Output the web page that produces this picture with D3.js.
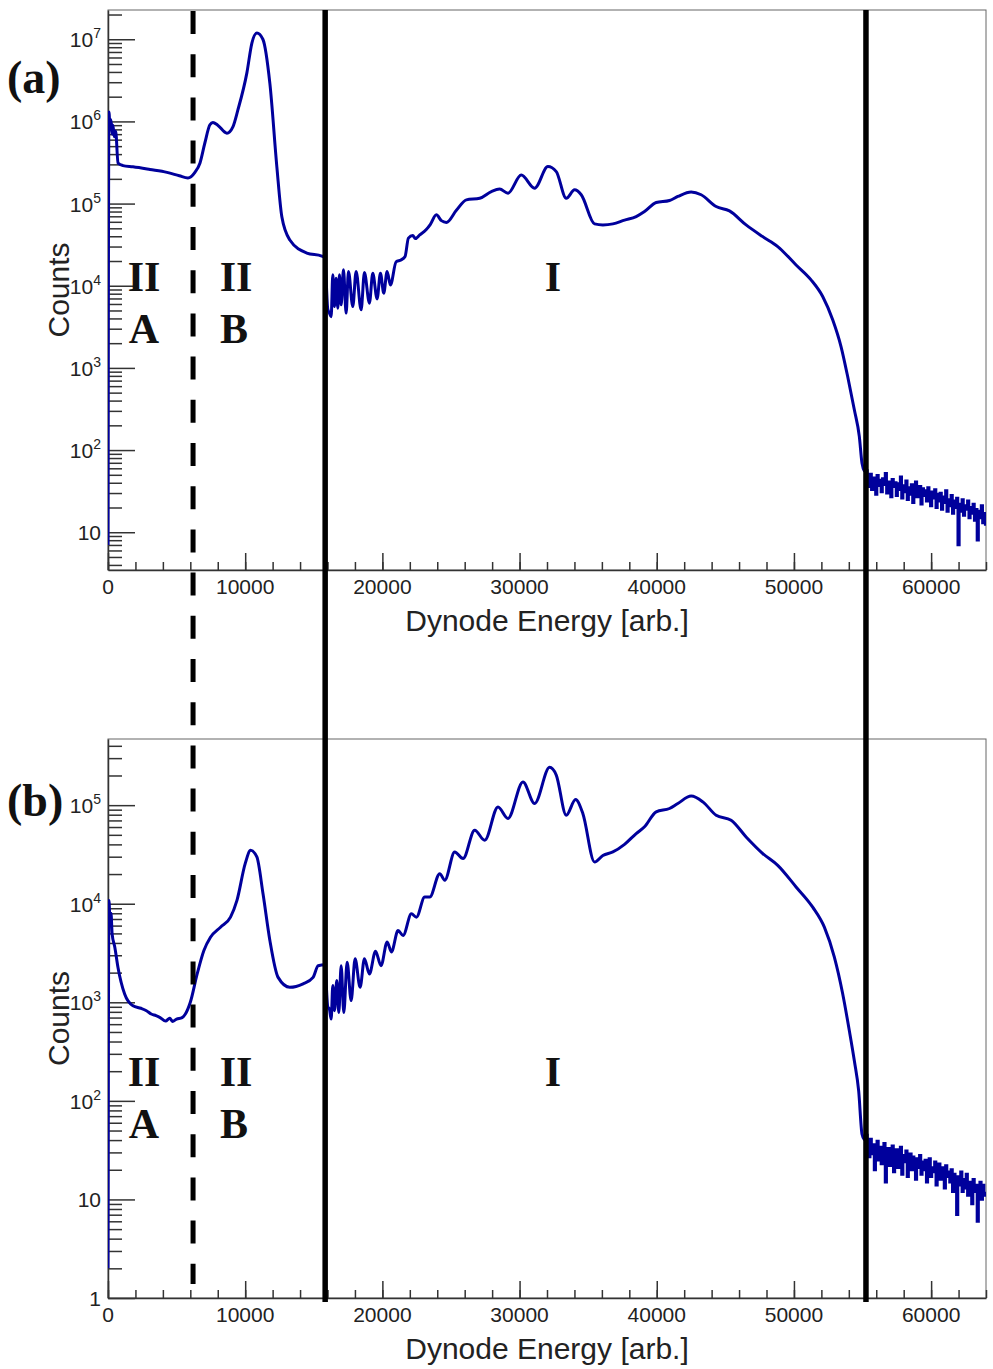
<!DOCTYPE html>
<html>
<head>
<meta charset="utf-8">
<script src="https://cdn.jsdelivr.net/npm/d3@7/dist/d3.min.js"></script>
<style>
  body { margin: 0; background: #fff; }
  svg { display: block; }
</style>
</head>
<body>
<div id="chart"></div>
<script>
// ---- data (energy in arb. units, counts) ----

// panel (a): smooth part of the spectrum
const energyA = [0, 70, 150, 220, 300, 364, 450, 560, 730, 1092, 1820, 3059, 4297, 5200, 5826,
  6336, 6700, 7064, 7429, 7647, 8000, 8667, 9104, 9468, 10123, 10488, 10852, 11289, 11799,
  12308, 12672, 13255, 14493, 15586, 15804,
  16020, 16143, 16266, 16387, 16508, 16630, 16751, 16872, 16994, 17164, 17358, 17528, 17843,
  18085, 18449, 18692, 19056, 19299, 19615, 19858, 20101, 20343, 20586, 20999, 21363, 21654,
  21897, 22213, 22400, 22723, 23184, 23500, 23936, 24300, 24667, 25395, 26123, 27094, 27944,
  28549, 29154, 30125, 31097, 32068, 32675, 33403, 34011, 34496, 35467, 36074, 36802, 37652,
  38501, 39109, 39959, 40930, 41537, 42508, 43236, 44328, 45299, 46513, 47727, 48819, 50155,
  51247, 52096, 52825, 53432, 53917, 54403, 54767, 54962, 55150];
const countsA = [7, 1300000, 820000, 1050000, 700000, 900000, 650000, 760000, 310000, 290000,
  280000, 260000, 240000, 218000, 205000,
  240000, 310000, 550000, 910000, 970000, 900000, 720000, 860000, 1380000, 3900000, 9000000,
  11900000, 10000000, 2900000,
  280000, 69000, 36000, 25000, 23000, 22000,
  5200, 4650, 4200, 13600, 5580, 12300, 5330, 13600, 5850, 15600, 4650, 14900, 5580,
  14900, 5090, 14450, 6140, 14200, 6920, 14200, 8130, 14900, 10200, 19500, 20600, 22700,
  38000, 40800, 37500, 41600, 48000, 56000, 73000, 62000, 59000, 83000, 111000, 116000, 140000,
  150000, 134000, 223000, 154000, 282000, 245000, 116000, 147000, 128000, 56600, 55000, 56600, 63000,
  69500, 80000, 103000, 109000, 122000, 138000, 128000, 92000, 81500, 55000, 39600, 30000, 17900,
  11800, 7400, 3850, 1820, 785, 309, 146, 69, 55];

// panel (a): noisy tail above the upper cut (bins of tailBin from tailStart)
const tailStart = 55250;
const tailBin = 100;
const tailA = [56, 44, 36, 51, 33, 46, 39, 29, 49, 37, 43,
  31, 45, 38, 52, 30, 41, 35, 27, 44, 36, 40,
  28, 39, 33, 47, 26, 37, 31, 42, 25, 35, 29,
  38, 23, 33, 41, 27, 31, 36, 22, 34, 28, 32,
  24, 35, 27, 21, 31, 26, 33, 20, 29, 24, 30,
  19, 27, 23, 32, 18, 25, 21, 28, 17, 24, 20,
  26, 7, 22, 18, 25, 16, 21, 19, 24, 15, 20,
  17, 22, 14, 19, 8, 18, 15, 21, 13, 17, 12];

// panel (b): smooth part of the spectrum
const energyB = [0, 70, 150, 220, 300, 500, 728, 1213, 1820, 2400, 2800, 3150, 3500, 3800, 4200,
  4500, 4700, 5000, 5400, 5640, 6000, 6500, 6990, 7470, 8200, 8930, 9400, 10000, 10400, 10850,
  11300, 11800, 12400, 13250, 14220, 14950, 15320, 15804,
  16020, 16143, 16266, 16387, 16508, 16678, 16824, 16994, 17188, 17431, 17722, 18013, 18376,
  18692, 19056, 19500, 19900, 20350, 20658, 21144, 21508, 22116, 22480, 23087, 23451, 24181,
  24545, 25273, 25880, 26730, 27458, 28428, 29154, 30246, 31097, 32189, 32675, 33403, 34083,
  34617, 35467, 36074, 36802, 37652, 38501, 39109, 39959, 40930, 41537, 42508, 43357, 44328,
  45420, 46513, 47727, 48819, 50155, 51368, 52217, 52946, 53553, 54039, 54403, 54719, 54962, 55150];
const countsB = [2, 10800, 6500, 8000, 4950, 3600, 2260, 1216, 923, 870, 822, 760, 731, 700, 646,
  690, 640, 676, 700, 760, 1000, 1940, 3350, 4570, 5780, 7310, 10800, 25500, 34800, 29800,
  12600, 4240, 1790, 1420, 1540, 1790, 2350, 2400,
  900, 850, 675, 1480, 822, 1660, 790, 2350, 790, 2550, 1040, 2760, 1420,
  2760, 1940, 3300, 2350, 4100, 3240, 5350, 4760, 7900, 7310, 11700, 11700, 20200,
  17300, 33500, 28700, 55700, 44000, 96000, 73300, 172000, 104000, 242000, 202000, 79000, 114000,
  82000, 26500, 30900, 33500, 40000, 51500, 60300, 85500, 92500, 104000, 123500, 108000, 79000,
  70300, 47600, 32300, 24500, 14800, 9230, 5780, 2870, 1220, 514, 255, 126, 46, 40];

// panel (b): noisy tail above the upper cut
const tailB = [45, 33, 27, 41, 29, 36, 20, 32, 39, 25, 34,
  23, 30, 37, 15, 28, 33, 22, 27, 35, 19, 29,
  32, 21, 26, 34, 18, 28, 24, 31, 17, 25, 29,
  20, 27, 23, 16, 26, 21, 28, 18, 24, 20, 25,
  15, 22, 26, 17, 21, 19, 24, 14, 20, 23, 16,
  21, 18, 13, 22, 17, 19, 15, 20, 12, 18, 16,
  7, 17, 14, 19, 12, 16, 13, 18, 11, 15, 14,
  9, 16, 12, 14, 6, 13, 15, 10, 14, 11, 12];

// axis ticks
const xMajor = [0, 10000, 20000, 30000, 40000, 50000, 60000];
const xTickLabels = ['0', '10000', '20000', '30000', '40000', '50000', '60000'];
const yExpA = [1, 2, 3, 4, 5, 6, 7];
const yExpB = [0, 1, 2, 3, 4, 5];

// region boundaries (energy)
const cutAB = 6200;
const cutLow = 15830;
const cutHigh = 55250;

// ---- drawing ----
const width = 993;
const height = 1369;
const left = 108;
const right = 986;
const lineColor = '#00009c';
const axisFont = '"Liberation Sans", Arial, Helvetica, sans-serif';
const serifFont = '"Liberation Serif", "Times New Roman", serif';

const svg = d3.select('#chart')
  .append('svg')
  .attr('width', width)
  .attr('height', height);

const x = d3.scaleLinear().domain([0, 64000]).range([left, right]);

function drawPanel(p) {
  const y = d3.scaleLog().domain(p.yDomain).range([p.bottom, p.top]);
  const g = svg.append('g');

  // clip for the curve
  g.append('clipPath')
    .attr('id', 'clip-' + p.id)
    .append('rect')
    .attr('x', left)
    .attr('y', p.top)
    .attr('width', right - left)
    .attr('height', p.bottom - p.top);

  // frame
  g.append('rect')
    .attr('x', left)
    .attr('y', p.top)
    .attr('width', right - left)
    .attr('height', p.bottom - p.top)
    .attr('fill', 'none')
    .attr('stroke', '#666')
    .attr('stroke-width', 1);

  // x axis: major and minor ticks pointing up
  const xMinor = d3.range(0, 64001, 2000);
  g.append('g')
    .attr('transform', `translate(0,${p.bottom})`)
    .call(d3.axisBottom(x).tickValues(xMinor).tickSize(-8).tickSizeOuter(0).tickFormat(''))
    .call(a => a.selectAll('line,path').attr('stroke', '#333').attr('stroke-width', 1.5));
  g.append('g')
    .attr('transform', `translate(0,${p.bottom})`)
    .call(d3.axisBottom(x).tickValues(xMajor).tickSize(-17).tickSizeOuter(0).tickFormat(''))
    .call(a => a.selectAll('line').attr('stroke', '#333').attr('stroke-width', 1.5))
    .call(a => a.select('path').remove());

  g.selectAll('.xlab')
    .data(xMajor)
    .enter()
    .append('text')
    .attr('x', d => x(d))
    .attr('y', p.bottom + 24)
    .attr('text-anchor', 'middle')
    .attr('font-family', axisFont)
    .attr('font-size', '21px')
    .attr('fill', '#222')
    .text((d, i) => xTickLabels[i]);

  g.append('text')
    .attr('x', (left + right) / 2)
    .attr('y', p.bottom + 61)
    .attr('text-anchor', 'middle')
    .attr('font-family', axisFont)
    .attr('font-size', '30px')
    .attr('fill', '#222')
    .text('Dynode Energy [arb.]');

  // y axis: log ticks pointing right
  const yMinor = [];
  const lo = Math.floor(Math.log10(p.yDomain[0]));
  const hi = Math.ceil(Math.log10(p.yDomain[1]));
  for (let e = lo; e <= hi; e++) {
    for (let k = 2; k <= 9; k++) {
      const v = k * Math.pow(10, e);
      if (v >= p.yDomain[0] && v <= p.yDomain[1]) yMinor.push(v);
    }
  }
  g.append('g')
    .attr('transform', `translate(${left},0)`)
    .call(d3.axisLeft(y).tickValues(yMinor).tickSize(-14).tickSizeOuter(0).tickFormat(''))
    .call(a => a.selectAll('line,path').attr('stroke', '#333').attr('stroke-width', 1.5));
  g.append('g')
    .attr('transform', `translate(${left},0)`)
    .call(d3.axisLeft(y).tickValues(p.yExp.map(e => Math.pow(10, e))).tickSize(-27).tickSizeOuter(0).tickFormat(''))
    .call(a => a.selectAll('line').attr('stroke', '#333').attr('stroke-width', 1.5))
    .call(a => a.select('path').remove());

  p.yExp.forEach(e => {
    const t = g.append('text')
      .attr('x', 101)
      .attr('y', y(Math.pow(10, e)) + 8)
      .attr('text-anchor', 'end')
      .attr('font-family', axisFont)
      .attr('font-size', '21px')
      .attr('fill', '#222');
    if (e === 0) {
      t.attr('y', y(1) + 8).text('1');
    } else if (e === 1) {
      t.text('10');
    } else {
      t.append('tspan').text('10');
      t.append('tspan')
        .attr('dy', -9)
        .attr('font-size', '14px')
        .text(e);
    }
  });

  g.append('text')
    .attr('transform', `translate(69,${(p.top + p.bottom) / 2}) rotate(-90)`)
    .attr('text-anchor', 'middle')
    .attr('font-family', axisFont)
    .attr('font-size', '30px')
    .attr('fill', '#222')
    .text('Counts');

  // spectrum
  const pts = p.energy.map((e, i) => [e, p.counts[i]]);
  const line = d3.line()
    .x(d => x(d[0]))
    .y(d => y(d[1]))
    .curve(d3.curveMonotoneX);
  g.append('path')
    .datum(pts)
    .attr('clip-path', `url(#clip-${p.id})`)
    .attr('d', line)
    .attr('fill', 'none')
    .attr('stroke', lineColor)
    .attr('stroke-width', 3)
    .attr('stroke-linejoin', 'round');

  const tail = p.tail.map((c, i) => [tailStart + i * tailBin, c]);
  const stepLine = d3.line()
    .x(d => x(d[0]))
    .y(d => y(d[1]))
    .curve(d3.curveStepAfter);
  g.append('path')
    .datum(tail)
    .attr('clip-path', `url(#clip-${p.id})`)
    .attr('d', stepLine)
    .attr('fill', 'none')
    .attr('stroke', lineColor)
    .attr('stroke-width', 2.8);

  // panel tag and region labels
  g.append('text')
    .attr('x', 7)
    .attr('y', p.tagY)
    .attr('font-family', serifFont)
    .attr('font-weight', 'bold')
    .attr('font-size', '46px')
    .attr('fill', '#111')
    .text(p.tag);

  const regions = [
    { t: 'II', x: 144, dy: 0 }, { t: 'A', x: 144, dy: 52 },
    { t: 'II', x: 236, dy: 0 }, { t: 'B', x: 234, dy: 52 },
    { t: 'I', x: 553, dy: 0 }
  ];
  g.selectAll('.region')
    .data(regions)
    .enter()
    .append('text')
    .attr('x', d => d.x)
    .attr('y', d => p.regionY + d.dy)
    .attr('text-anchor', 'middle')
    .attr('font-family', serifFont)
    .attr('font-weight', 'bold')
    .attr('font-size', '42px')
    .attr('fill', '#111')
    .text(d => d.t);
}

drawPanel({
  id: 'a', top: 10, bottom: 570, yDomain: [3.47, 2.27e7], yExp: yExpA,
  energy: energyA, counts: countsA, tail: tailA,
  tag: '(a)', tagY: 93, regionY: 291
});

drawPanel({
  id: 'b', top: 739, bottom: 1298, yDomain: [1, 4.69e5], yExp: yExpB,
  energy: energyB, counts: countsB, tail: tailB,
  tag: '(b)', tagY: 816, regionY: 1086
});

// region boundaries drawn across both panels
svg.append('line')
  .attr('x1', x(cutAB)).attr('x2', x(cutAB))
  .attr('y1', 11).attr('y2', 1284)
  .attr('stroke', '#000')
  .attr('stroke-width', 5)
  .attr('stroke-dasharray', '23,20.2');

[cutLow, cutHigh].forEach(c => {
  svg.append('line')
    .attr('x1', x(c)).attr('x2', x(c))
    .attr('y1', 10).attr('y2', 1302)
    .attr('stroke', '#000')
    .attr('stroke-width', 5.5);
});
</script>
</body>
</html>
